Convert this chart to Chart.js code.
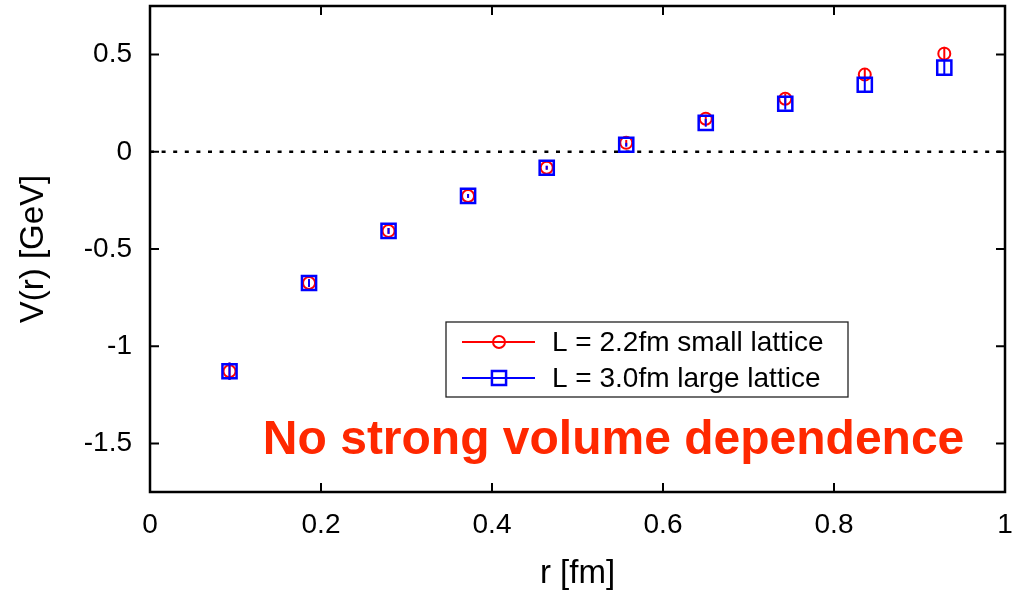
<!DOCTYPE html>
<html>
<head>
<meta charset="utf-8">
<title>Static potential V(r)</title>
<script src="https://cdn.jsdelivr.net/npm/chart.js@4.4.1/dist/chart.umd.min.js"></script>
<style>
  html, body { margin: 0; padding: 0; background: #fff; }
</style>
</head>
<body>
<canvas id="potentialChart" width="1019" height="594"></canvas>
<script>
// separation r [fm]
const rValues = [0.093, 0.186, 0.279, 0.372, 0.464, 0.557, 0.650, 0.743, 0.836, 0.929];
// L = 2.2 fm lattice
const vSmall = [-1.129, -0.675, -0.407, -0.227, -0.082, 0.046, 0.170, 0.273, 0.397, 0.505];
const errSmall = [0.045, 0.020, 0.015, 0.010, 0.010, 0.015, 0.020, 0.025, 0.030, 0.035];
// L = 3.0 fm lattice
const vLarge = [-1.129, -0.675, -0.407, -0.227, -0.082, 0.036, 0.149, 0.247, 0.345, 0.433];
const errLarge = [0.045, 0.020, 0.015, 0.010, 0.010, 0.010, 0.020, 0.030, 0.040, 0.040];

const xTicks = [0, 0.2, 0.4, 0.6, 0.8, 1];
const yTicks = [-1.5, -1, -0.5, 0, 0.5];
const seriesLabels = ["L = 2.2fm small lattice", "L = 3.0fm large lattice"];
const noteText = "No strong volume dependence";

const FONT = "'Liberation Sans', Arial, Helvetica, sans-serif";

function points(ys, errs) {
    return rValues.map((r, i) => ({ x: r, y: ys[i], err: errs[i] }));
}

// keep the plot frame fixed: no extra room for overhanging tick labels
function fixBox(prop, size) {
    return s => {
        s[prop] = size;
        s.paddingTop = s.paddingBottom = s.paddingLeft = s.paddingRight = 0;
    };
}

// error bars, zero line, frame with inward ticks, legend box and note
const plotExtras = {
    id: "plotExtras",
    beforeDatasetsDraw(chart) {
        const { ctx, chartArea: a, scales: { y } } = chart;
        const y0 = y.getPixelForValue(0);
        ctx.save();
        ctx.strokeStyle = "#000";
        ctx.lineWidth = 2.5;
        ctx.setLineDash([4, 7.6]);
        ctx.beginPath();
        ctx.moveTo(a.left, y0);
        ctx.lineTo(a.right, y0);
        ctx.stroke();
        ctx.restore();
    },
    beforeDatasetDraw(chart, args) {
        const { ctx, scales: { x, y } } = chart;
        const ds = chart.data.datasets[args.index];
        ctx.save();
        ctx.strokeStyle = ds.borderColor;
        ctx.lineWidth = 2;
        ds.data.forEach(p => {
            const px = x.getPixelForValue(p.x);
            ctx.beginPath();
            ctx.moveTo(px, y.getPixelForValue(p.y - p.err));
            ctx.lineTo(px, y.getPixelForValue(p.y + p.err));
            ctx.stroke();
        });
        ctx.restore();
    },
    afterDraw(chart) {
        const { ctx, chartArea: a, scales: { x, y } } = chart;
        const tick = 9;
        ctx.save();
        ctx.strokeStyle = "#000";
        ctx.lineWidth = 2;
        x.ticks.forEach(t => {
            const px = x.getPixelForValue(t.value);
            ctx.beginPath();
            ctx.moveTo(px, a.bottom); ctx.lineTo(px, a.bottom - tick);
            ctx.moveTo(px, a.top); ctx.lineTo(px, a.top + tick);
            ctx.stroke();
        });
        y.ticks.forEach(t => {
            const py = y.getPixelForValue(t.value);
            ctx.beginPath();
            ctx.moveTo(a.left, py); ctx.lineTo(a.left + tick, py);
            ctx.moveTo(a.right, py); ctx.lineTo(a.right - tick, py);
            ctx.stroke();
        });
        ctx.lineWidth = 2.5;
        ctx.strokeRect(a.left, a.top, a.right - a.left, a.bottom - a.top);

        // legend
        const bx = a.left + 296, by = a.top + 316, bw = 402, bh = 75;
        ctx.lineWidth = 1.3;
        ctx.strokeStyle = "#222";
        ctx.strokeRect(bx, by, bw, bh);
        ctx.font = "28px " + FONT;
        ctx.textBaseline = "middle";
        ctx.textAlign = "left";
        chart.data.datasets.forEach((ds, i) => {
            const ly = by + 20 + i * 36;
            ctx.strokeStyle = ds.borderColor;
            ctx.fillStyle = "rgba(0,0,0,0)";
            ctx.lineWidth = 2;
            ctx.beginPath();
            ctx.moveTo(bx + 16, ly);
            ctx.lineTo(bx + 89, ly);
            ctx.stroke();
            ctx.lineWidth = ds.pointBorderWidth;
            Chart.helpers.drawPoint(ctx, {
                pointStyle: ds.pointStyle,
                radius: ds.pointRadius,
                borderWidth: ds.pointBorderWidth,
                rotation: 0
            }, bx + 53, ly);
            ctx.fillStyle = "#000";
            ctx.fillText(ds.label, bx + 106, ly + 1);
        });

        // note
        ctx.fillStyle = "#ff2800";
        ctx.font = "bold 48px " + FONT;
        ctx.textBaseline = "alphabetic";
        ctx.fillText(noteText, x.getPixelForValue(0.132), y.getPixelForValue(-1.557));
        ctx.restore();
    }
};

new Chart(document.getElementById("potentialChart"), {
    type: "scatter",
    data: {
        datasets: [
            {
                label: seriesLabels[0],
                data: points(vSmall, errSmall),
                borderColor: "#ff0000",
                backgroundColor: "rgba(0,0,0,0)",
                pointStyle: "circle",
                pointRadius: 6,
                pointBorderWidth: 2,
                order: 1
            },
            {
                label: seriesLabels[1],
                data: points(vLarge, errLarge),
                borderColor: "#0000ff",
                backgroundColor: "rgba(0,0,0,0)",
                pointStyle: "rect",
                pointRadius: 10,
                pointBorderWidth: 2.5,
                order: 0
            }
        ]
    },
    options: {
        responsive: false,
        animation: false,
        events: [],
        layout: { autoPadding: false, padding: { top: 6, right: 14, left: 0, bottom: 0 } },
        plugins: {
            legend: { display: false },
            tooltip: { enabled: false }
        },
        scales: {
            x: {
                type: "linear",
                min: 0,
                max: 1,
                afterBuildTicks: s => { s.ticks = xTicks.map(v => ({ value: v })); },
                afterFit: fixBox("height", 102),
                grid: { display: false, drawTicks: false },
                border: { display: false },
                ticks: {
                    padding: 16,
                    color: "#000",
                    maxRotation: 0,
                    autoSkip: false,
                    font: { family: FONT, size: 28 },
                    callback: v => String(v)
                },
                title: {
                    display: true,
                    text: "r [fm]",
                    color: "#000",
                    font: { family: FONT, size: 33 },
                    padding: { top: 0, bottom: 0 }
                }
            },
            y: {
                type: "linear",
                min: -1.75,
                max: 0.75,
                afterBuildTicks: s => { s.ticks = yTicks.map(v => ({ value: v })); },
                afterFit: fixBox("width", 150),
                grid: { display: false, drawTicks: false },
                border: { display: false },
                ticks: {
                    padding: 18,
                    color: "#000",
                    autoSkip: false,
                    font: { family: FONT, size: 28 },
                    callback: v => String(v)
                },
                title: {
                    display: true,
                    text: "V(r) [GeV]",
                    color: "#000",
                    font: { family: FONT, size: 33 },
                    padding: { top: 14, bottom: 0 }
                }
            }
        }
    },
    plugins: [plotExtras]
});
</script>
</body>
</html>
